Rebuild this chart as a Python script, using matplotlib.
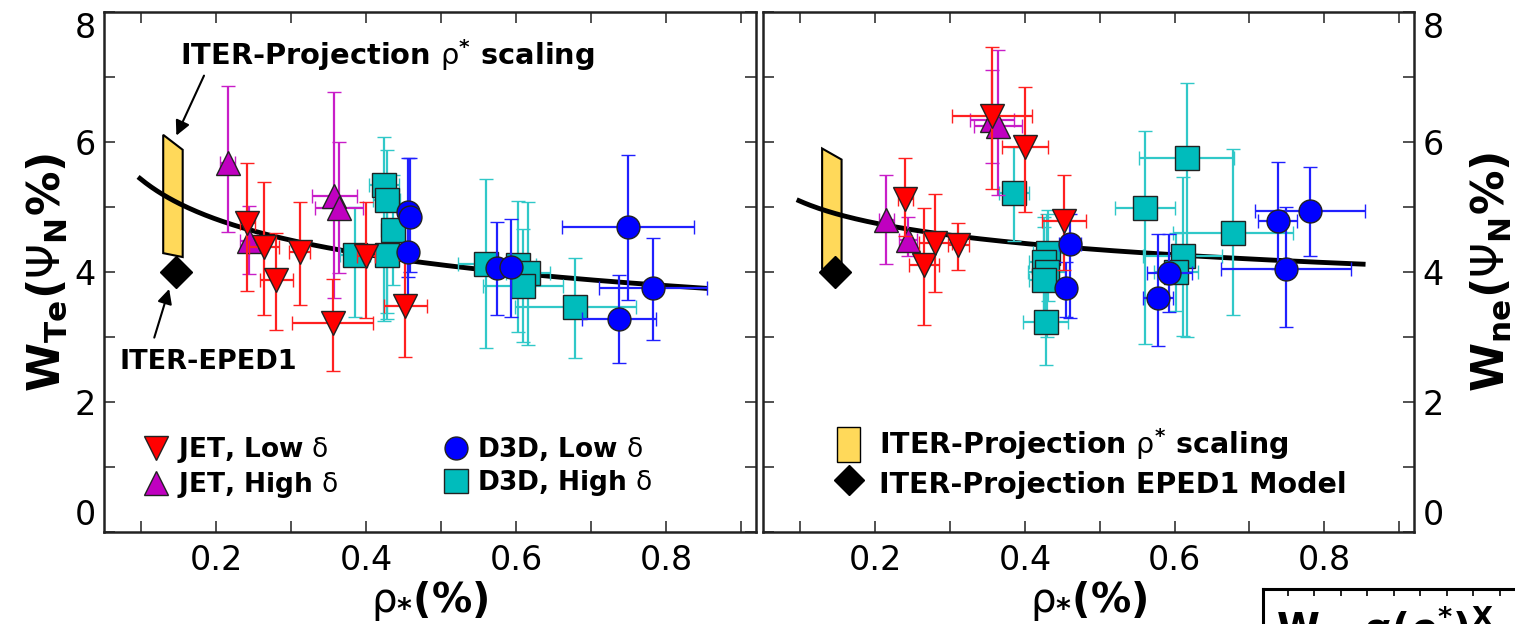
import matplotlib.pyplot as plt
import numpy as np
from matplotlib.lines import Line2D
from matplotlib.patches import Patch
from matplotlib.ticker import MultipleLocator

plt.rcParams['font.family'] = ['DejaVu Sans']
plt.rcParams['mathtext.fontset'] = 'dejavusans'
plt.rcParams['mathtext.default'] = 'rm'

# ------------------------------
# Pedestal width, Te (left panel)
# ------------------------------
te_jet_lo_x = [0.241, 0.264, 0.280, 0.311, 0.355, 0.400, 0.452]
te_jet_lo_y = [4.75, 4.39, 3.88, 4.31, 3.21, 4.24, 3.47]
te_jet_lo_ylo = [3.71, 3.34, 3.11, 3.50, 2.47, 3.29, 2.70]
te_jet_lo_yhi = [5.67, 5.39, 4.60, 5.08, 3.90, 5.08, 4.18]
te_jet_lo_xerr = [0.010, 0.020, 0.022, 0.014, 0.054, 0.012, 0.029]

te_jet_hi_x = [0.215, 0.244, 0.357, 0.364]
te_jet_hi_y = [5.67, 4.47, 5.17, 4.98]
te_jet_hi_ylo = [4.62, 3.97, 3.60, 3.98]
te_jet_hi_yhi = [6.86, 5.02, 6.77, 6.00]
te_jet_hi_xerr = [0.010, 0.012, 0.030, 0.032]

te_d3d_lo_x = [0.456, 0.458, 0.455, 0.575, 0.593, 0.749, 0.782, 0.737]
te_d3d_lo_y = [4.93, 4.85, 4.31, 4.06, 4.07, 4.69, 3.75, 3.28]
te_d3d_lo_ylo = [3.93, 4.00, 3.60, 3.34, 3.31, 3.57, 2.95, 2.60]
te_d3d_lo_yhi = [5.75, 5.75, 5.00, 4.77, 4.81, 5.80, 4.53, 3.96]
te_d3d_lo_xerr = [0.010, 0.012, 0.008, 0.010, 0.010, 0.088, 0.072, 0.049]

te_d3d_hi_x = [0.423, 0.427, 0.435, 0.385, 0.427, 0.560, 0.602, 0.616, 0.609, 0.679]
te_d3d_hi_y = [5.34, 5.11, 4.65, 4.26, 4.26, 4.12, 4.11, 3.98, 3.78, 3.46]
te_d3d_hi_ylo = [3.24, 3.37, 3.80, 3.31, 3.28, 2.83, 3.08, 2.88, 2.93, 2.67]
te_d3d_hi_yhi = [6.08, 5.88, 5.50, 5.00, 5.08, 5.43, 5.10, 5.08, 4.66, 4.22]
te_d3d_hi_xerr = [0.020, 0.018, 0.015, 0.020, 0.015, 0.038, 0.025, 0.029, 0.053, 0.081]

# ------------------------------
# Pedestal width, ne (right panel)
# ------------------------------
ne_jet_lo_x = [0.240, 0.265, 0.280, 0.311, 0.356, 0.400, 0.452]
ne_jet_lo_y = [5.13, 4.11, 4.45, 4.42, 6.40, 5.93, 4.79]
ne_jet_lo_ylo = [4.55, 3.18, 3.70, 4.03, 5.27, 4.93, 4.03]
ne_jet_lo_yhi = [5.76, 4.98, 5.20, 4.75, 7.46, 6.85, 5.49]
ne_jet_lo_xerr = [0.010, 0.020, 0.022, 0.014, 0.054, 0.031, 0.029]

ne_jet_hi_x = [0.215, 0.244, 0.356, 0.364]
ne_jet_hi_y = [4.80, 4.49, 6.34, 6.24]
ne_jet_hi_ylo = [4.13, 4.24, 5.67, 5.18]
ne_jet_hi_yhi = [5.49, 4.85, 7.11, 7.41]
ne_jet_hi_xerr = [0.010, 0.012, 0.030, 0.032]

ne_d3d_lo_x = [0.460, 0.455, 0.578, 0.593, 0.749, 0.738, 0.781]
ne_d3d_lo_y = [4.43, 3.75, 3.60, 3.99, 4.05, 4.79, 4.94]
ne_d3d_lo_ylo = [3.30, 3.31, 2.86, 3.39, 3.15, 4.05, 4.24]
ne_d3d_lo_yhi = [4.90, 4.16, 4.58, 4.58, 5.00, 5.69, 5.61]
ne_d3d_lo_xerr = [0.015, 0.012, 0.020, 0.030, 0.087, 0.026, 0.074]

ne_d3d_hi_x = [0.386, 0.431, 0.425, 0.429, 0.425, 0.428, 0.560, 0.616, 0.611, 0.602, 0.678]
ne_d3d_hi_y = [5.22, 4.29, 4.16, 4.00, 3.87, 3.23, 4.99, 5.76, 4.24, 4.00, 4.60]
ne_d3d_hi_ylo = [4.48, 3.55, 3.40, 3.00, 3.20, 2.57, 2.89, 3.00, 3.02, 3.40, 3.34]
ne_d3d_hi_yhi = [5.93, 4.95, 4.85, 4.90, 4.70, 3.84, 6.17, 6.91, 5.46, 4.60, 5.90]
ne_d3d_hi_xerr = [0.020, 0.020, 0.020, 0.025, 0.020, 0.030, 0.040, 0.064, 0.053, 0.030, 0.080]

# power-law fits w = a * rho^b
te_fit = (3.648, -0.172)
ne_fit = (4.056, -0.0984)
fit_range = (0.098, 0.852)

# ITER projections: rho* band (x edges, top y, bottom y) and EPED1 point
iter_band_x = [0.129, 0.155]
te_band_top = [6.11, 5.88]
te_band_bot = [4.29, 4.23]
ne_band_top = [5.90, 5.73]
ne_band_bot = [4.05, 4.00]
iter_rho = 0.146
te_eped = 4.0
ne_eped = 4.0

styles = {
    "jet_lo": dict(marker="v", mfc="#ff0000", ecolor="#ff2020", ms=17),
    "jet_hi": dict(marker="^", mfc="#c000c0", ecolor="#c81ec8", ms=17),
    "d3d_lo": dict(marker="o", mfc="#0000ff", ecolor="#2020ff", ms=16.5),
    "d3d_hi": dict(marker="s", mfc="#00bcbc", ecolor="#30c8c8", ms=17),
}


def draw_group(ax, key, x, y, ylo, yhi, xerr, z):
    st = styles[key]
    y = np.array(y)
    yerr = [y - np.array(ylo), np.array(yhi) - y]
    ax.errorbar(x, y, yerr=yerr, xerr=xerr, ls="none", marker=st["marker"],
                ms=st["ms"], mfc=st["mfc"], mec="#222222", mew=1.0,
                ecolor=st["ecolor"], elinewidth=1.6, capsize=5, capthick=1.6,
                zorder=z)


def draw_panel(ax, groups, fit, band_top, band_bot, eped):
    # ITER rho* scaling band
    bx = [iter_band_x[0], iter_band_x[1], iter_band_x[1], iter_band_x[0]]
    by = [band_top[0], band_top[1], band_bot[1], band_bot[0]]
    ax.fill(bx, by, facecolor="#ffd95a", edgecolor="black", lw=1.5, zorder=1)
    rr = np.linspace(*fit_range, 200)
    ax.plot(rr, fit[0] * rr ** fit[1], color="black", lw=3.5, zorder=2)
    ax.plot([iter_rho], [eped], ls="none", marker="D", ms=16, mfc="black",
            mec="black", zorder=6)
    for z, (key, data) in enumerate(groups):
        draw_group(ax, key, *data, z=3 + z * 0.1)

    ax.set_xlim(0.05, 0.92)
    ax.set_ylim(0, 8)
    ax.xaxis.set_major_locator(MultipleLocator(0.2))
    ax.xaxis.set_minor_locator(MultipleLocator(0.1))
    ax.set_yticks([0, 2, 4, 6, 8])
    ax.yaxis.set_minor_locator(MultipleLocator(1))
    ax.tick_params(which="both", direction="in", top=True, right=True,
                   length=8, width=1.2, color="#333333", labelsize=24)
    ax.tick_params(axis="x", pad=9)
    ax.tick_params(axis="y", pad=6)
    for sp in ax.spines.values():
        sp.set_linewidth(1.8)
        sp.set_color("#222222")
    ax.set_xlabel(r"$\rho_{\mathbf{*}}$(%)", fontsize=29, fontweight="bold",
                  labelpad=1)


fig = plt.figure(figsize=(15.15, 6.24), dpi=100)
ax1 = fig.add_axes([104 / 1515, 92 / 624, 652 / 1515, 520 / 624])
ax2 = fig.add_axes([763 / 1515, 92 / 624, 651 / 1515, 520 / 624])

draw_panel(ax1, [
    ("d3d_hi", (te_d3d_hi_x, te_d3d_hi_y, te_d3d_hi_ylo, te_d3d_hi_yhi, te_d3d_hi_xerr)),
    ("jet_hi", (te_jet_hi_x, te_jet_hi_y, te_jet_hi_ylo, te_jet_hi_yhi, te_jet_hi_xerr)),
    ("d3d_lo", (te_d3d_lo_x, te_d3d_lo_y, te_d3d_lo_ylo, te_d3d_lo_yhi, te_d3d_lo_xerr)),
    ("jet_lo", (te_jet_lo_x, te_jet_lo_y, te_jet_lo_ylo, te_jet_lo_yhi, te_jet_lo_xerr)),
], te_fit, te_band_top, te_band_bot, te_eped)

draw_panel(ax2, [
    ("d3d_hi", (ne_d3d_hi_x, ne_d3d_hi_y, ne_d3d_hi_ylo, ne_d3d_hi_yhi, ne_d3d_hi_xerr)),
    ("jet_hi", (ne_jet_hi_x, ne_jet_hi_y, ne_jet_hi_ylo, ne_jet_hi_yhi, ne_jet_hi_xerr)),
    ("d3d_lo", (ne_d3d_lo_x, ne_d3d_lo_y, ne_d3d_lo_ylo, ne_d3d_lo_yhi, ne_d3d_lo_xerr)),
    ("jet_lo", (ne_jet_lo_x, ne_jet_lo_y, ne_jet_lo_ylo, ne_jet_lo_yhi, ne_jet_lo_xerr)),
], ne_fit, ne_band_top, ne_band_bot, ne_eped)

ax1.set_ylabel(r"W$_{\mathbf{Te}}$($\Psi_{\mathbf{N}}$%)", fontsize=32,
               fontweight="bold", labelpad=4)
ax2.yaxis.set_label_position("right")
ax2.tick_params(axis="y", labelleft=False, labelright=True)
ax2.set_ylabel(r"W$_{\mathbf{ne}}$($\Psi_{\mathbf{N}}$%)", fontsize=32,
               fontweight="bold", labelpad=18)

# keep the end labels inside the frame
for ax in (ax1, ax2):
    labs = ax.get_yticklabels()
    labs[0].set_va("bottom")
    labs[-1].set_va("top")

# annotations on the left panel
ax1.text(0.151, 7.34, r"ITER-Projection $\rho^{\mathbf{*}}$ scaling", fontsize=20.8,
         fontweight="bold", va="center", ha="left")
ax1.annotate("", xy=(0.145, 6.06), xytext=(0.185, 7.06),
             arrowprops=dict(arrowstyle="-|>", color="black", lw=1.5,
                             mutation_scale=22))
ax1.text(0.071, 2.62, "ITER-EPED1", fontsize=19.5, fontweight="bold",
         va="center", ha="left")
ax1.annotate("", xy=(0.138, 3.78), xytext=(0.116, 2.95),
             arrowprops=dict(arrowstyle="-|>", color="black", lw=1.5,
                             mutation_scale=22))


# legends
def proxy(key):
    st = styles[key]
    return Line2D([], [], ls="none", marker=st["marker"], ms=st["ms"],
                  mfc=st["mfc"], mec="#222222")


ax1.legend([proxy("jet_lo"), proxy("jet_hi"), proxy("d3d_lo"), proxy("d3d_hi")],
           [r"JET, Low $\delta$", r"JET, High $\delta$",
            r"D3D, Low $\delta$", r"D3D, High $\delta$"],
           ncol=2, loc="lower left", bbox_to_anchor=(0.025, 0.015),
           frameon=False, handlelength=0.9, handletextpad=0.35,
           columnspacing=4.0, labelspacing=0.2,
           prop=dict(weight="bold", size=19))

ax2.legend([Patch(facecolor="#ffd95a", edgecolor="black"),
            Line2D([], [], ls="none", marker="D", ms=15, mfc="black", mec="black")],
           [r"ITER-Projection $\rho^{\mathbf{*}}$ scaling", "ITER-Projection EPED1 Model"],
           loc="lower left", bbox_to_anchor=(0.075, 0.01), frameon=False,
           handlelength=0.8, handleheight=1.5, handletextpad=0.65,
           labelspacing=0.15,
           prop=dict(weight="bold", size=20.5))

# next panel's frame peeking in at the bottom right corner
ax3 = fig.add_axes([1263 / 1515, -76 / 624, 400 / 1515, 111 / 624])
ax3.set_xlim(-0.93, 14.16)
ax3.set_ylim(0, 1)
ax3.set_xticks(np.arange(15))
ax3.set_yticks([])
ax3.tick_params(axis="x", direction="in", bottom=False, top=True,
                labelbottom=False, length=5, width=1.2)
for name, sp in ax3.spines.items():
    sp.set_linewidth(2.2)
    sp.set_visible(name in ("left", "top"))
fig.text(1276 / 1515, 1 - 604 / 624,
         r"W~ $\mathbf{\alpha}$($\mathbf{\rho^{*}}$)$^{\mathbf{X}}$",
         fontsize=28, fontweight="bold", va="top", ha="left")

fig.savefig("out.png", dpi=100)
